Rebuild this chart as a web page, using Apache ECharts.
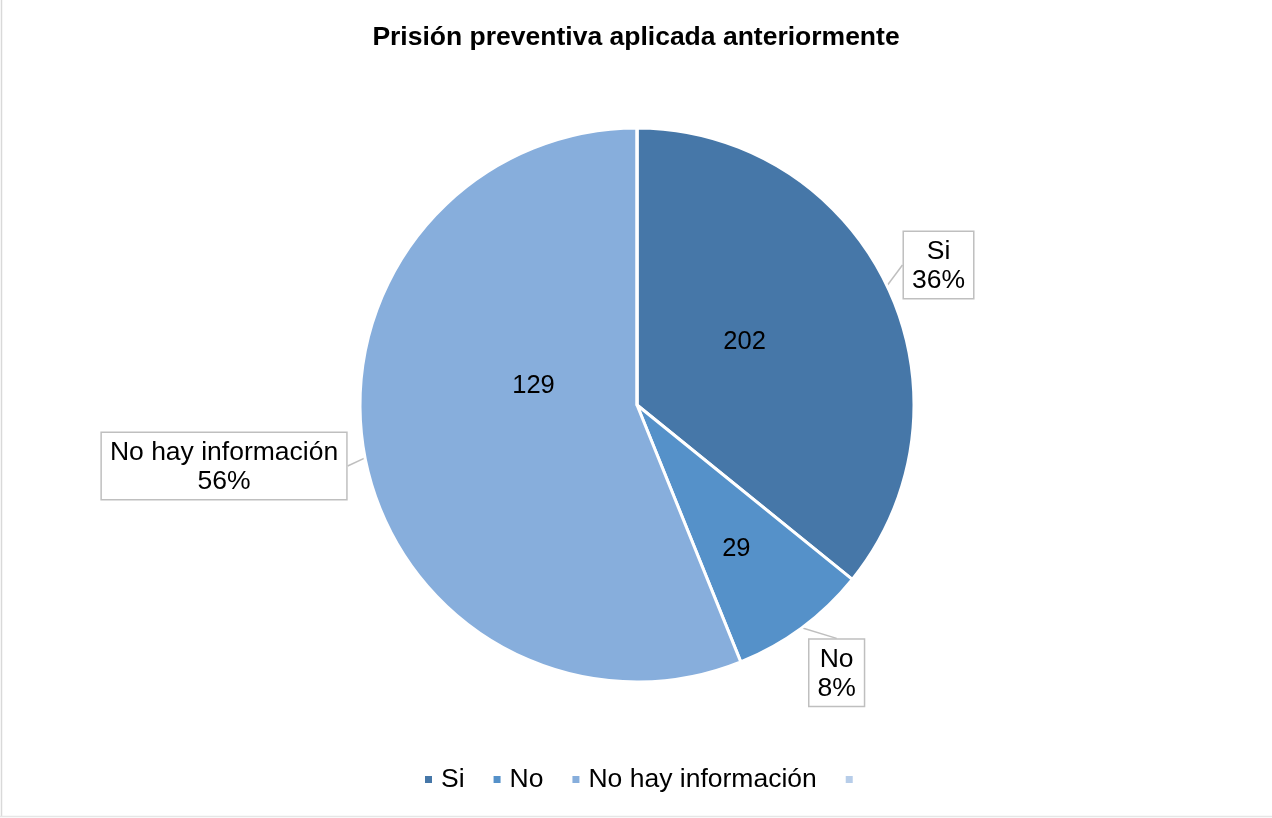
<!DOCTYPE html>
<html>
<head>
<meta charset="utf-8">
<script src="https://cdn.jsdelivr.net/npm/echarts@6/dist/echarts.min.js"></script>
<style>
  html, body { margin: 0; padding: 0; background: #fff; }
  #chart { width: 1272px; height: 818px; }
</style>
</head>
<body>
<div id="chart"></div>
<script>
// categories as in the legend (the 4th one has no name in the source)
const categories = ['Si', 'No', 'No hay información', ' ']
// slice sizes (give 36% / 8% / 56%)
const sliceValues = [129, 29, 202, 0]
// numbers printed inside the slices (as shown in the picture)
const innerLabels = ['202', '29', '129', '']
const colors = ['#4677a8', '#5591c9', '#87aedc', '#b7cde9']

// label placement in polar terms (degrees clockwise from top, fraction of radius)
const innerAngle = [59.7, 145.3, 280.4, 0]
const innerRadial = [0.45, 0.63, 0.38, 0.5]
const outerAngle = [65.1, 143.3, 261.6, 0]
const outerRadial = [1.2, 1.206, 1.507, 1.2]

const cx = 637, cy = 405, R = 277

const chart = echarts.init(document.getElementById('chart'))

const font = '"Liberation Sans", Arial, sans-serif'

const polar = (ang, frac) => {
  const a = ang * Math.PI / 180
  return { x: cx + frac * R * Math.sin(a), y: cy - frac * R * Math.cos(a) }
}

chart.setOption({
  backgroundColor: '#fff',
  animation: false,
  title: {
    text: 'Prisión preventiva aplicada anteriormente',
    left: 'center',
    top: 19,
    textStyle: { fontFamily: font, fontSize: 26.5, fontWeight: 'bold', color: '#000' }
  },
  legend: {
    bottom: 20,
    left: 418,
    icon: 'rect',
    itemWidth: 9,
    itemHeight: 9,
    itemGap: 27,
    data: categories,
    textStyle: { fontFamily: font, fontSize: 26.5, color: '#000', padding: [0, 0, 0, 3] }
  },
  graphic: [
    { type: 'line', shape: { x1: 1.5, y1: 0, x2: 1.5, y2: 816 }, style: { stroke: '#d9d9d9', lineWidth: 1.5 } },
    { type: 'line', shape: { x1: 0, y1: 816.5, x2: 1272, y2: 816.5 }, style: { stroke: '#e6e6e6', lineWidth: 1.5 } }
  ],
  series: [
    {
      type: 'pie',
      center: [cx, cy],
      radius: [0, R],
      startAngle: 90,
      clockwise: true,
      avoidLabelOverlap: false,
      legendHoverLink: false,
      silent: true,
      itemStyle: { borderColor: '#fff', borderWidth: 3 },
      label: {
        show: true,
        position: 'inside',
        fontFamily: font,
        fontSize: 25.5,
        color: '#000',
        formatter: p => innerLabels[p.dataIndex]
      },
      labelLayout: function (p) {
        const pt = polar(innerAngle[p.dataIndex], innerRadial[p.dataIndex])
        return { x: pt.x, y: pt.y, align: 'center', verticalAlign: 'middle' }
      },
      data: categories.map((name, i) => ({
        name: name,
        value: sliceValues[i],
        itemStyle: { color: colors[i] }
      }))
    },
    {
      type: 'pie',
      center: [cx, cy],
      radius: [0, R],
      startAngle: 90,
      clockwise: true,
      silent: true,
      avoidLabelOverlap: false,
      itemStyle: { color: 'transparent', borderWidth: 0 },
      label: {
        show: true,
        position: 'outside',
        fontFamily: font,
        fontSize: 26.5,
        lineHeight: 29,
        color: '#000',
        align: 'center',
        backgroundColor: '#fff',
        borderColor: '#bfbfbf',
        borderWidth: 1.5,
        padding: [5, 8, 3, 8],
        formatter: p => p.value === 0 ? '' : '{c|' + p.name + '}\n{c|' + Math.round(p.percent) + '%}',
        rich: {
          c: { fontFamily: font, fontSize: 26.5, lineHeight: 29, color: '#000', align: 'center' }
        }
      },
      labelLayout: function (p) {
        const pt = polar(outerAngle[p.dataIndex], outerRadial[p.dataIndex])
        return { x: pt.x, y: pt.y, align: 'center', verticalAlign: 'middle' }
      },
      labelLine: {
        show: true,
        length: 12,
        length2: 0,
        lineStyle: { color: '#bfbfbf', width: 1.5 }
      },
      data: categories.map((name, i) => ({
        name: name,
        value: sliceValues[i],
        label: { show: sliceValues[i] > 0 },
        labelLine: { show: sliceValues[i] > 0 }
      }))
    }
  ]
})
</script>
</body>
</html>
